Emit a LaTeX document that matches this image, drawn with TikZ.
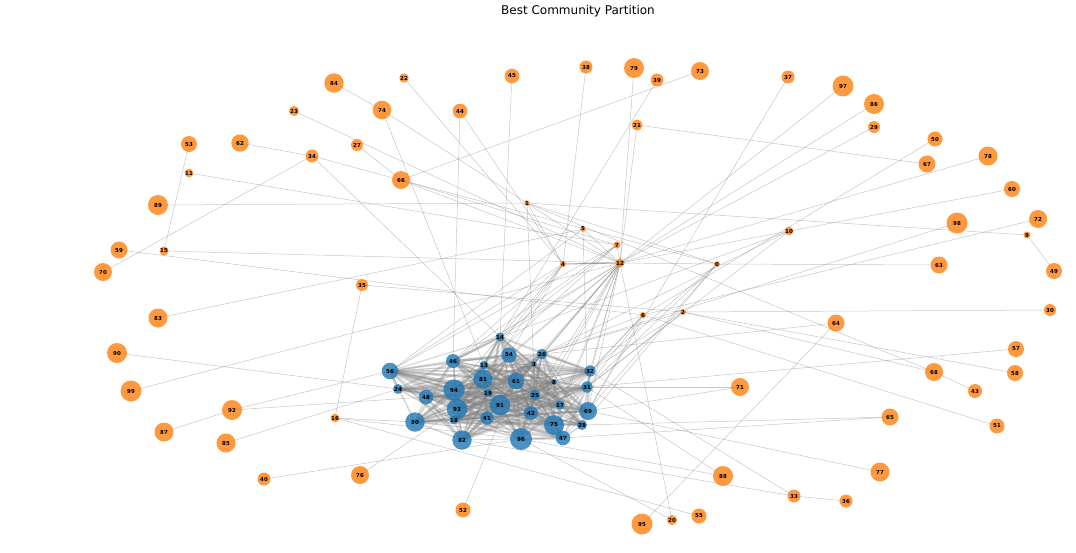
\documentclass[tikz,border=0pt]{standalone}
\usepackage{fontspec}
\setmainfont{DejaVu Sans}
\pgfdeclarelayer{edges}
\pgfsetlayers{edges,main}
\definecolor{tabor}{HTML}{FF7F0E}
\definecolor{tabbl}{HTML}{1F77B4}
\tikzset{
  nd/.style={circle, inner sep=0pt, fill opacity=0.8, text opacity=1, text=black,
    font=\bfseries\fontsize{5.5}{6}\selectfont},
  on/.style={nd, fill=tabor},
  bn/.style={nd, fill=tabbl},
  pedge/.style={draw=gray, line width=0.5pt, draw opacity=0.45},
  hedge/.style={draw=gray, line width=1pt, draw opacity=0.7},
  cedge/.style={draw=gray, draw opacity=0.33},
}
\newcommand\gnd[5]{\node[#5, minimum size=#4*2pt] (v#1) at (#2,#3) {#1};}
\begin{document}
\begin{tikzpicture}[x=1pt,y=-1pt]
\useasboundingbox (0,0) rectangle (1076,552);
\node[font=\fontsize{12}{14}\selectfont] (title) at (578,11) {Best Community Partition};
% orange community
\gnd{84}{334}{83}{9.7}{on}
\gnd{22}{404}{78}{4.7}{on}
\gnd{45}{512}{76}{7.3}{on}
\gnd{23}{294}{111}{5}{on}
\gnd{74}{382}{110}{9.3}{on}
\gnd{44}{460}{111}{7.3}{on}
\gnd{53}{189}{144}{8}{on}
\gnd{62}{240}{143}{8.7}{on}
\gnd{27}{357}{145}{6}{on}
\gnd{34}{312}{156}{6.5}{on}
\gnd{11}{189}{173}{4}{on}
\gnd{66}{401}{180}{9}{on}
\gnd{89}{158}{205}{10}{on}
\gnd{1}{527}{203}{2}{on}
\gnd{59}{119}{250}{8.5}{on}
\gnd{15}{164}{251}{4.5}{on}
\gnd{70}{103}{272}{9}{on}
\gnd{38}{586}{67}{6.5}{on}
\gnd{79}{634}{68}{10}{on}
\gnd{39}{657}{80}{6.5}{on}
\gnd{73}{700}{71}{9}{on}
\gnd{37}{788}{77}{6.5}{on}
\gnd{97}{843}{86}{10.5}{on}
\gnd{86}{874}{104}{10}{on}
\gnd{29}{874}{127}{6}{on}
\gnd{21}{637}{125}{5.5}{on}
\gnd{50}{935}{139}{7.5}{on}
\gnd{67}{927}{164}{8.5}{on}
\gnd{78}{988}{156}{9.5}{on}
\gnd{60}{1012}{189}{8}{on}
\gnd{98}{957}{223}{10.5}{on}
\gnd{72}{1038}{219}{9}{on}
\gnd{9}{1027}{235}{3.5}{on}
\gnd{10}{789}{231}{4}{on}
\gnd{5}{583}{229}{2.5}{on}
\gnd{7}{617}{245}{3.5}{on}
\gnd{4}{563}{264}{3}{on}
\gnd{12}{620}{263}{4.5}{on}
\gnd{0}{717}{264}{2}{on}
\gnd{63}{939}{265}{8.5}{on}
\gnd{49}{1054}{271}{8}{on}
\gnd{35}{362}{285}{6}{on}
\gnd{83}{158}{318}{9.5}{on}
\gnd{90}{117}{353}{10}{on}
\gnd{99}{131}{391}{10.5}{on}
\gnd{92}{232}{410}{10}{on}
\gnd{87}{164}{432}{9.5}{on}
\gnd{85}{226}{443}{9.5}{on}
\gnd{16}{335}{418}{4}{on}
\gnd{40}{264}{479}{6.5}{on}
\gnd{76}{360}{475}{9}{on}
\gnd{52}{463}{510}{7.5}{on}
\gnd{6}{643}{315}{3}{on}
\gnd{2}{683}{312}{2}{on}
\gnd{30}{1050}{310}{6}{on}
\gnd{64}{836}{323}{8.5}{on}
\gnd{57}{1016}{349}{8}{on}
\gnd{58}{1015}{373}{8}{on}
\gnd{68}{934}{372}{9}{on}
\gnd{43}{975}{391}{7}{on}
\gnd{71}{740}{387}{9}{on}
\gnd{65}{890}{417}{8.5}{on}
\gnd{51}{997}{426}{7.5}{on}
\gnd{77}{880}{472}{9.5}{on}
\gnd{88}{723}{476}{10}{on}
\gnd{33}{794}{496}{6.5}{on}
\gnd{36}{846}{501}{6.5}{on}
\gnd{55}{699}{516}{7.5}{on}
\gnd{20}{672}{520}{5}{on}
\gnd{95}{642}{524}{10.5}{on}
% blue community
\gnd{14}{500}{337}{4.5}{bn}
\gnd{56}{390}{371}{8.3}{bn}
\gnd{46}{453}{361}{7}{bn}
\gnd{24}{398}{389}{5}{bn}
\gnd{48}{426}{397}{7.3}{bn}
\gnd{80}{415}{422}{9.7}{bn}
\gnd{94}{454}{390}{10.7}{bn}
\gnd{93}{457}{409}{10.3}{bn}
\gnd{18}{454}{420}{4}{bn}
\gnd{82}{462}{440}{9.7}{bn}
\gnd{81}{483}{379}{9.7}{bn}
\gnd{13}{484}{365}{4}{bn}
\gnd{19}{488}{393}{4}{bn}
\gnd{41}{487}{418}{6.7}{bn}
\gnd{91}{500}{405}{10.3}{bn}
\gnd{54}{509}{355}{7.7}{bn}
\gnd{61}{516}{381}{8.3}{bn}
\gnd{96}{521}{439}{11}{bn}
\gnd{42}{531}{413}{7}{bn}
\gnd{25}{535}{395}{5.3}{bn}
\gnd{26}{542}{354}{5.3}{bn}
\gnd{3}{534}{364}{1.7}{bn}
\gnd{8}{554}{382}{2.7}{bn}
\gnd{32}{590}{371}{5.7}{bn}
\gnd{31}{587}{387}{5.7}{bn}
\gnd{17}{560}{405}{4.7}{bn}
\gnd{69}{588}{411}{9}{bn}
\gnd{75}{554}{425}{10}{bn}
\gnd{28}{582}{425}{5}{bn}
\gnd{47}{563}{438}{7.3}{bn}
\begin{pgfonlayer}{edges}
% dense community edges
\foreach \a [count=\i] in {14,56,46,24,48,80,94,93,18,82,81,13,19,41,91,54,61,96,42,25,26,3,8,32,31,17,69,75,28,47}{
  \foreach \b [count=\j] in {14,56,46,24,48,80,94,93,18,82,81,13,19,41,91,54,61,96,42,25,26,3,8,32,31,17,69,75,28,47}{
    \ifnum\j>\i
      \pgfmathtruncatemacro\r{mod(\i*7+\j*11+\i*\j,10)}
      \ifnum\r<7
        \pgfmathsetmacro\w{0.8+0.3*\r}
        \draw[cedge, line width=\w pt] (v\a.center) -- (v\b.center);
      \fi
    \fi
  }
}
% edges between hubs and community
\foreach \a/\b in {12/14,12/26,12/54,12/3,12/81,12/61,12/91,12/25,12/8,12/17,12/31,12/32,12/69,12/75,12/42,12/46,
  4/14,4/46,4/13,4/81,4/54,4/56,0/32,0/31,0/28,0/47,7/14,7/46,7/56,7/13,
  6/31,6/32,6/26,6/69,6/17,2/31,2/32,2/26,5/56,10/31,10/26,10/14}{
  \draw[pedge] (v\a.center) -- (v\b.center);
}
% peripheral edges
\foreach \a/\b in {84/74,74/12,74/13,22/4,23/12,44/46,44/4,45/14,38/4,79/12,39/14,73/66,21/12,21/67,
  27/66,62/34,34/66,70/34,34/14,53/15,11/7,89/1,1/9,1/25,1/4,1/0,1/68,59/6,15/12,83/5,90/24,99/12,
  92/87,92/56,92/48,85/24,35/16,35/2,16/80,16/55,16/96,40/96,76/93,52/61,37/69,97/12,86/12,29/12,
  50/6,78/12,60/12,98/26,72/6,9/49,0/63,12/0,5/12,5/69,7/12,2/30,2/68,2/58,68/43,57/31,71/31,71/69,
  51/6,65/28,65/47,77/69,88/31,33/32,33/36,82/33,96/88,20/96,20/12,95/64,26/64,66/0,66/12,66/7}{
  \draw[pedge] (v\a.center) -- (v\b.center);
}
\draw[hedge] (v4.center) -- (v12.center);
\end{pgfonlayer}
\end{tikzpicture}
\end{document}
